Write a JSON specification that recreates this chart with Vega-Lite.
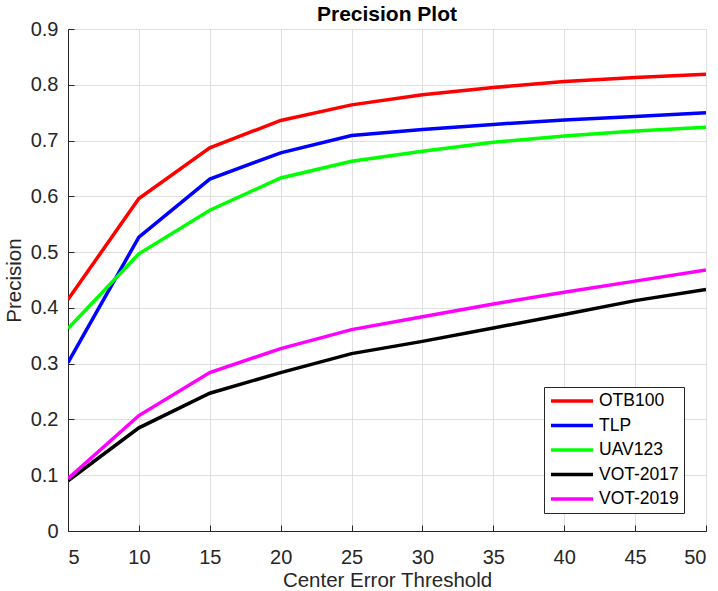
{
  "$schema": "https://vega.github.io/schema/vega-lite/v6.json",
  "autosize": "none",
  "width": 638,
  "height": 502,
  "padding": {"left": 68, "top": 29, "right": 12, "bottom": 60},
  "background": "white",
  "title": {
    "text": "Precision Plot",
    "font": "Liberation Sans",
    "fontSize": 21,
    "fontWeight": "bold",
    "color": "#000000",
    "anchor": "middle",
    "frame": "group",
    "offset": -6
  },
  "config": {
    "view": {"stroke": "#d4d4d4", "strokeWidth": 1},
    "axis": {
      "domainColor": "#262626",
      "domainWidth": 1,
      "tickColor": "#262626",
      "tickSize": -6,
      "labelColor": "#262626",
      "labelFont": "Liberation Sans",
      "labelFontSize": 20,
      "titleFont": "Liberation Sans",
      "titleFontSize": 20.5,
      "titleFontWeight": "normal",
      "titleColor": "#262626",
      "gridColor": "#dfdfdf",
      "gridWidth": 1
    }
  },
  "data": {
    "values": [
      {"t": 5, "p": 0.415, "s": "OTB100"},
      {"t": 10, "p": 0.596, "s": "OTB100"},
      {"t": 15, "p": 0.687, "s": "OTB100"},
      {"t": 20, "p": 0.736, "s": "OTB100"},
      {"t": 25, "p": 0.764, "s": "OTB100"},
      {"t": 30, "p": 0.782, "s": "OTB100"},
      {"t": 35, "p": 0.795, "s": "OTB100"},
      {"t": 40, "p": 0.806, "s": "OTB100"},
      {"t": 45, "p": 0.813, "s": "OTB100"},
      {"t": 50, "p": 0.819, "s": "OTB100"},
      {"t": 5, "p": 0.302, "s": "TLP"},
      {"t": 10, "p": 0.527, "s": "TLP"},
      {"t": 15, "p": 0.631, "s": "TLP"},
      {"t": 20, "p": 0.678, "s": "TLP"},
      {"t": 25, "p": 0.709, "s": "TLP"},
      {"t": 30, "p": 0.720, "s": "TLP"},
      {"t": 35, "p": 0.729, "s": "TLP"},
      {"t": 40, "p": 0.737, "s": "TLP"},
      {"t": 45, "p": 0.743, "s": "TLP"},
      {"t": 50, "p": 0.750, "s": "TLP"},
      {"t": 5, "p": 0.363, "s": "UAV123"},
      {"t": 10, "p": 0.497, "s": "UAV123"},
      {"t": 15, "p": 0.575, "s": "UAV123"},
      {"t": 20, "p": 0.633, "s": "UAV123"},
      {"t": 25, "p": 0.663, "s": "UAV123"},
      {"t": 30, "p": 0.681, "s": "UAV123"},
      {"t": 35, "p": 0.697, "s": "UAV123"},
      {"t": 40, "p": 0.708, "s": "UAV123"},
      {"t": 45, "p": 0.717, "s": "UAV123"},
      {"t": 50, "p": 0.724, "s": "UAV123"},
      {"t": 5, "p": 0.090, "s": "VOT-2017"},
      {"t": 10, "p": 0.185, "s": "VOT-2017"},
      {"t": 15, "p": 0.247, "s": "VOT-2017"},
      {"t": 20, "p": 0.284, "s": "VOT-2017"},
      {"t": 25, "p": 0.318, "s": "VOT-2017"},
      {"t": 30, "p": 0.340, "s": "VOT-2017"},
      {"t": 35, "p": 0.364, "s": "VOT-2017"},
      {"t": 40, "p": 0.388, "s": "VOT-2017"},
      {"t": 45, "p": 0.413, "s": "VOT-2017"},
      {"t": 50, "p": 0.433, "s": "VOT-2017"},
      {"t": 5, "p": 0.094, "s": "VOT-2019"},
      {"t": 10, "p": 0.207, "s": "VOT-2019"},
      {"t": 15, "p": 0.284, "s": "VOT-2019"},
      {"t": 20, "p": 0.327, "s": "VOT-2019"},
      {"t": 25, "p": 0.361, "s": "VOT-2019"},
      {"t": 30, "p": 0.384, "s": "VOT-2019"},
      {"t": 35, "p": 0.407, "s": "VOT-2019"},
      {"t": 40, "p": 0.428, "s": "VOT-2019"},
      {"t": 45, "p": 0.448, "s": "VOT-2019"},
      {"t": 50, "p": 0.468, "s": "VOT-2019"}
    ]
  },
  "mark": {"type": "line", "strokeWidth": 3.5, "clip": true},
  "encoding": {
    "x": {
      "field": "t",
      "type": "quantitative",
      "scale": {"domain": [5, 50], "nice": false, "zero": false},
      "axis": {
        "title": "Center Error Threshold",
        "values": [5, 10, 15, 20, 25, 30, 35, 40, 45, 50],
        "labelPadding": 22,
        "titleX": 319,
        "titleY": 55,
        "titleBaseline": "alphabetic"
      }
    },
    "y": {
      "field": "p",
      "type": "quantitative",
      "scale": {"domain": [0, 0.9], "nice": false},
      "axis": {
        "title": "Precision",
        "values": [0, 0.1, 0.2, 0.3, 0.4, 0.5, 0.6, 0.7, 0.8, 0.9],
        "format": "~g",
        "labelPadding": 16,
        "titleX": -48,
        "titleY": 251,
        "titleAngle": -90,
        "titleBaseline": "alphabetic"
      }
    },
    "color": {
      "field": "s",
      "type": "nominal",
      "scale": {
        "domain": ["OTB100", "TLP", "UAV123", "VOT-2017", "VOT-2019"],
        "range": ["#ff0000", "#0000ff", "#00ff00", "#000000", "#ff00ff"]
      },
      "legend": {
        "title": null,
        "orient": "none",
        "legendX": 476,
        "legendY": 358,
        "strokeColor": "#262626",
        "fillColor": "white",
        "padding": 5,
        "symbolType": "M-1,0L5,0",
        "symbolSize": 196,
        "symbolStrokeWidth": 3.5,
        "labelOffset": 32,
        "labelFont": "Liberation Sans",
        "labelFontSize": 17.5,
        "labelColor": "#000000",
        "rowPadding": 6.5
      }
    }
  }
}
